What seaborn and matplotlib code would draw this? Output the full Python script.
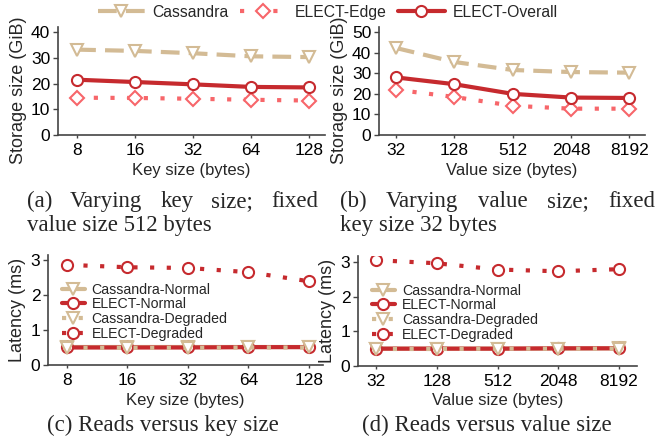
import matplotlib
matplotlib.use("Agg")
import matplotlib.pyplot as plt
import seaborn as sns

# ---------------- data ----------------
key_sizes = ["8", "16", "32", "64", "128"]
value_sizes = ["32", "128", "512", "2048", "8192"]

# storage size (GiB)
store_key_cassandra = [33.2, 32.7, 31.8, 30.6, 30.3]
store_key_edge = [14.5, 14.4, 14.1, 13.7, 13.4]
store_key_overall = [21.5, 20.6, 19.7, 18.7, 18.5]

store_val_cassandra = [42.3, 35.5, 31.6, 30.6, 30.3]
store_val_edge = [22.0, 18.5, 14.2, 12.8, 12.8]
store_val_overall = [28.0, 24.7, 20.0, 18.2, 18.0]

# read latency (ms)
lat_key_cass_normal = [0.50, 0.50, 0.50, 0.50, 0.50]
lat_key_elect_normal = [0.50, 0.50, 0.50, 0.51, 0.51]
lat_key_cass_degraded = [0.49, 0.49, 0.49, 0.50, 0.50]
lat_key_elect_degraded = [2.86, 2.79, 2.77, 2.65, 2.39]

lat_val_cass_normal = [0.50, 0.50, 0.50, 0.50, 0.51]
lat_val_elect_normal = [0.50, 0.50, 0.50, 0.51, 0.51]
lat_val_cass_degraded = [0.49, 0.49, 0.50, 0.50, 0.50]
lat_val_elect_degraded = [3.05, 2.96, 2.78, 2.73, 2.79]

# ---------------- style ----------------
TAN = "#D3BB95"
SALMON = "#F7666A"
RED = "#C62A2E"
SPINE = "#444444"

sns.set_theme(style="ticks")
plt.rcParams["font.family"] = ["Liberation Sans", "DejaVu Sans"]
SERIF = ["Liberation Serif", "DejaVu Serif"]

fig = plt.figure(figsize=(6.66, 4.41), dpi=100)
W, H = 666.0, 441.0


def add_axes(left, right, top, bottom):
    return fig.add_axes([left / W, 1 - bottom / H, (right - left) / W, (bottom - top) / H])


def style_axes(ax, xlabel, ylabel, ylim, yticks, xlim, label_y=0.5):
    ax.set_ylim(*ylim)
    ax.set_yticks(yticks)
    ax.set_xlim(*xlim)
    ax.set_xlabel(xlabel, fontsize=12, labelpad=3.5)
    ax.set_ylabel(ylabel, fontsize=13, labelpad=3)
    ax.yaxis.label.set_y(label_y)
    ax.tick_params(axis="both", labelsize=12.5, colors="black", width=1.0)
    ax.tick_params(axis="x", length=2.5, pad=3, color=SPINE)
    ax.tick_params(axis="y", length=3.5, pad=2, color=SPINE)
    for s in ["top", "right"]:
        ax.spines[s].set_visible(False)
    for s in ["left", "bottom"]:
        ax.spines[s].set_color(SPINE)
        ax.spines[s].set_linewidth(1.2)
    if ax.get_legend() is not None:
        ax.get_legend().remove()


def line(ax, x, y, color, ls, marker, ms, lw, label):
    sns.lineplot(x=x, y=y, ax=ax, sort=False, errorbar=None, color=color,
                 linestyle=ls, linewidth=lw, marker=marker, markersize=ms,
                 markerfacecolor="white", markeredgecolor=color,
                 markeredgewidth=1.5, label=label)


DASH = (0, (4.5, 2.2))
DOT = (0, (1, 3))

# ---------------- (a) storage vs key size ----------------
ax_a = add_axes(58, 325, 27, 135)
line(ax_a, key_sizes, store_key_cassandra, TAN, DASH, "v", 9, 3.0, "Cassandra")
line(ax_a, key_sizes, store_key_edge, SALMON, DOT, "D", 7.5, 3.0, "ELECT-Edge")
line(ax_a, key_sizes, store_key_overall, RED, "-", "o", 8, 3.0, "ELECT-Overall")
handles, labels = ax_a.get_legend_handles_labels()
style_axes(ax_a, "Key size (bytes)", "Storage size (GiB)", (0, 42), [0, 10, 20, 30, 40],
           (-0.33, 4.28), label_y=0.41)

# ---------------- (b) storage vs value size ----------------
ax_b = add_axes(379, 645, 27, 135)
line(ax_b, value_sizes, store_val_cassandra, TAN, DASH, "v", 9, 3.0, None)
line(ax_b, value_sizes, store_val_edge, SALMON, DOT, "D", 7.5, 3.0, None)
line(ax_b, value_sizes, store_val_overall, RED, "-", "o", 8, 3.0, None)
style_axes(ax_b, "Value size (bytes)", "Storage size (GiB)", (0, 52.5), [0, 10, 20, 30, 40, 50],
           (-0.29, 4.27), label_y=0.41)

fig.legend(handles, labels, loc="center", bbox_to_anchor=(0.492, 0.972), ncol=3,
           frameon=False, fontsize=11.3, handlelength=3.0, handletextpad=0.5,
           columnspacing=0.7, borderaxespad=0)

# ---------------- (c) latency vs key size ----------------
ax_c = add_axes(48, 323, 255, 365)
line(ax_c, key_sizes, lat_key_cass_normal, TAN, "-", "v", 9, 3.0, "Cassandra-Normal")
line(ax_c, key_sizes, lat_key_elect_normal, RED, "-", "o", 8, 3.0, "ELECT-Normal")
line(ax_c, key_sizes, lat_key_cass_degraded, TAN, DOT, "v", 9, 3.0, "Cassandra-Degraded")
line(ax_c, key_sizes, lat_key_elect_degraded, RED, DOT, "o", 8, 3.0, "ELECT-Degraded")
style_axes(ax_c, "Key size (bytes)", "Latency (ms)", (0, 3.14), [0, 1, 2, 3], (-0.31, 4.23))
ax_c.legend(loc="upper left", bbox_to_anchor=(0.03, 0.80), frameon=False, fontsize=10.2,
            handlelength=1.6, handletextpad=0.5, labelspacing=0.05, borderaxespad=0)

# ---------------- (d) latency vs value size ----------------
ax_d = add_axes(358, 637, 256, 366)
line(ax_d, value_sizes, lat_val_cass_normal, TAN, "-", "v", 9, 3.0, "Cassandra-Normal")
line(ax_d, value_sizes, lat_val_elect_normal, RED, "-", "o", 8, 3.0, "ELECT-Normal")
line(ax_d, value_sizes, lat_val_cass_degraded, TAN, DOT, "v", 9, 3.0, "Cassandra-Degraded")
line(ax_d, value_sizes, lat_val_elect_degraded, RED, DOT, "o", 8, 3.0, "ELECT-Degraded")
style_axes(ax_d, "Value size (bytes)", "Latency (ms)", (0, 3.17), [0, 1, 2, 3], (-0.3, 4.3))
ax_d.legend(loc="upper left", bbox_to_anchor=(0.03, 0.80), frameon=False, fontsize=10.2,
            handlelength=1.6, handletextpad=0.5, labelspacing=0.05, borderaxespad=0)

# ---------------- captions ----------------
CAP = 16.5
renderer = fig.canvas.get_renderer()


def justified(text, x0, x1, y):
    words = text.split()
    objs = [fig.text(0, 1 - y / H, w, fontsize=CAP, family=SERIF, va="baseline") for w in words]
    widths = [o.get_window_extent(renderer).width for o in objs]
    gap = (x1 - x0 - sum(widths)) / (len(words) - 1)
    x = x0
    for o, wd in zip(objs, widths):
        o.set_x(x / W)
        x += wd + gap


def caption(text, x0, y):
    fig.text(x0 / W, 1 - y / H, text, fontsize=CAP, family=SERIF, va="baseline")


justified("(a) Varying key size; fixed", 27, 318, 207)
caption("value size 512 bytes", 27, 231)
justified("(b) Varying value size; fixed", 340, 655, 207)
caption("key size 32 bytes", 340, 231)
caption("(c) Reads versus key size", 47, 431)
caption("(d) Reads versus value size", 362, 431)

fig.savefig("out.png", dpi=100)
